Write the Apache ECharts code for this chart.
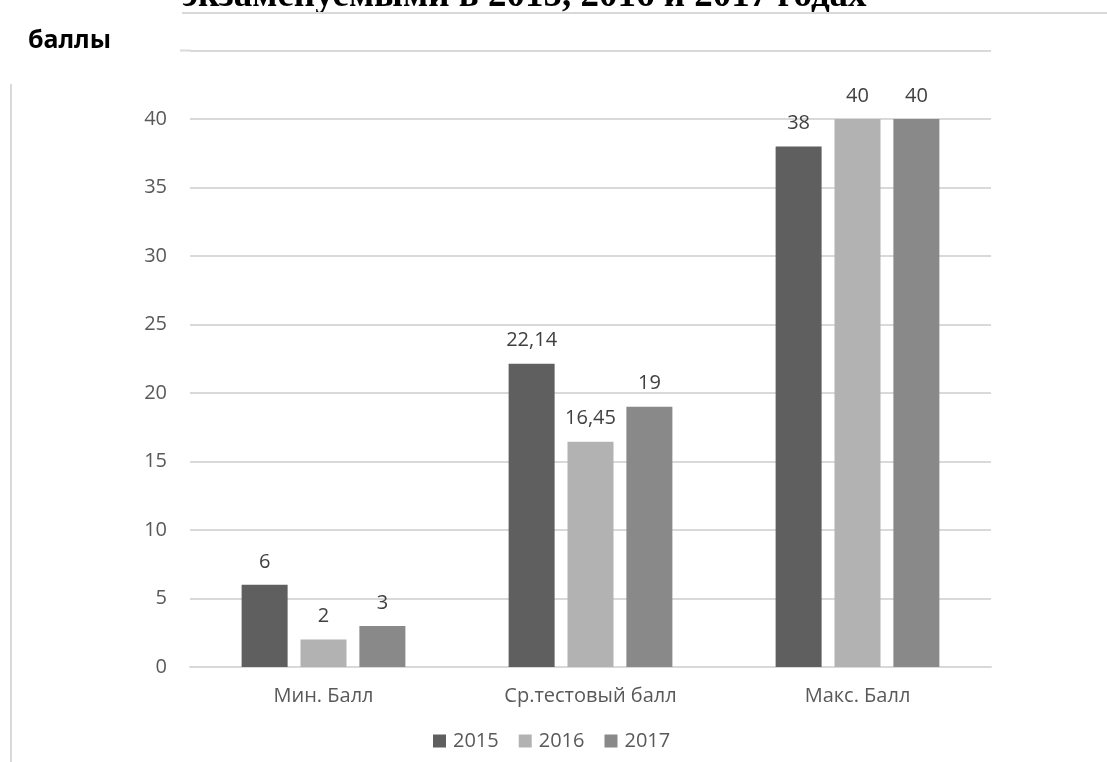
<!DOCTYPE html>
<html>
<head>
<meta charset="utf-8">
<script src="https://cdn.jsdelivr.net/npm/echarts@6/dist/echarts.min.js"></script>
<style>
  html, body { margin: 0; padding: 0; background: #fff; }
  #chart { width: 1107px; height: 762px; }
</style>
</head>
<body>
<div id="chart"></div>
<script>
// Categories and yearly scores
const categories = ['Мин. Балл', 'Ср.тестовый балл', 'Макс. Балл'];
const years = ['2015', '2016', '2017'];
const scores2015 = [6, 22.14, 38];
const scores2016 = [2, 16.45, 40];
const scores2017 = [3, 19, 40];
const yearColors = ['#5f5f5f', '#b2b2b2', '#898989'];
const yMax = 45;
const yStep = 5;

const seriesValues = [scores2015, scores2016, scores2017];

const chart = echarts.init(document.getElementById('chart'), null, { renderer: 'canvas' });

const FONT = '"Open Sans", "Noto Sans", sans-serif';

const option = {
  animation: false,
  backgroundColor: '#ffffff',
  grid: { left: 190, right: 116, top: 50.5, bottom: 95, containLabel: false },
  legend: {
    data: years,
    left: 428,
    top: 726,
    itemWidth: 13,
    itemHeight: 13,
    itemGap: 20,
    icon: 'rect',
    textStyle: { fontFamily: FONT, fontSize: 20, color: '#595959', padding: [0, 0, 0, 2] }
  },
  xAxis: {
    type: 'category',
    data: categories,
    axisLine: { show: true, lineStyle: { color: '#d9d9d9', width: 2 } },
    axisTick: { show: false },
    axisLabel: { fontFamily: FONT, fontSize: 20, color: '#595959', margin: 19 }
  },
  yAxis: {
    type: 'value',
    min: 0,
    max: yMax,
    interval: yStep,
    axisLine: { show: false },
    axisTick: { show: false },
    splitLine: { lineStyle: { color: '#d9d9d9', width: 2 } },
    axisLabel: { fontFamily: FONT, fontSize: 20, color: '#595959', margin: 23 }
  },
  series: years.map((y, i) => ({
    name: y,
    type: 'bar',
    data: seriesValues[i],
    barWidth: 46,
    barGap: '28%',
    itemStyle: { color: yearColors[i] },
    label: {
      show: true,
      position: 'top',
      distance: 13,
      fontFamily: FONT,
      fontSize: 20,
      color: '#404040',
      formatter: p => String(p.value).replace('.', ',')
    }
  })),
  graphic: [
    // heading line at the top of the sheet
    {
      type: 'text',
      left: 182,
      top: -22,
      style: {
        text: 'экзаменуемыми в 2015, 2016 и 2017 годах',
        font: 'bold 37px "Liberation Serif", "DejaVu Serif", serif',
        fill: '#000000'
      },
      z: 5
    },
    {
      type: 'line',
      shape: { x1: 182, y1: 13, x2: 1107, y2: 13 },
      style: { stroke: '#d9d9d9', lineWidth: 2 },
      z: 6
    },
    // white panel holding the axis name
    {
      type: 'rect',
      shape: { x: 10, y: 14, width: 170, height: 70 },
      style: { fill: '#ffffff' },
      z: 10
    },
    {
      type: 'line',
      shape: { x1: 180, y1: 50.5, x2: 191, y2: 50.5 },
      style: { stroke: '#d9d9d9', lineWidth: 2 },
      z: 6
    },
    {
      type: 'text',
      left: 28,
      top: 28,
      style: {
        text: 'баллы',
        font: 'bold 25px "Noto Sans", "Open Sans", sans-serif',
        fill: '#000000'
      },
      z: 11
    },
    {
      type: 'line',
      shape: { x1: 11, y1: 84, x2: 11, y2: 762 },
      style: { stroke: '#d9d9d9', lineWidth: 2 },
      z: 6
    }
  ]
};

chart.setOption(option);
</script>
</body>
</html>
